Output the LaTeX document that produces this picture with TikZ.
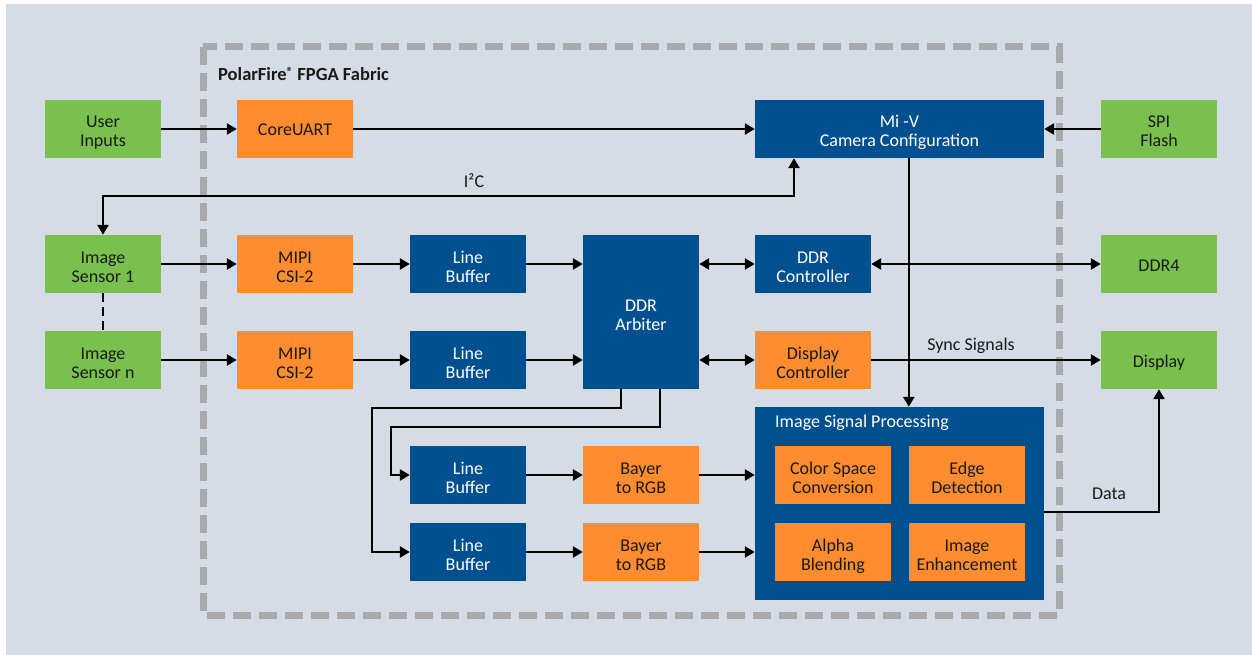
\documentclass[tikz,border=0pt]{standalone}
\usepackage{fontspec}
\setmainfont{Carlito}
\usetikzlibrary{arrows.meta}
\definecolor{bgcol}{HTML}{D5DCE6}
\definecolor{fabric}{HTML}{A7A9AC}
\definecolor{mgreen}{HTML}{7AC04F}
\definecolor{morange}{HTML}{FF8C2E}
\definecolor{mblue}{HTML}{005090}
\begin{document}
\begin{tikzpicture}[x=1pt,y=-1pt,
    blk/.style={minimum width=116pt,minimum height=58pt,inner sep=0pt,align=center,
      font=\fontsize{18}{19}\selectfont,text height=37pt,text depth=1pt},
    oneline/.style={text height=15pt},
    ext/.style={blk,fill=mgreen,text=black!90},
    ip/.style={blk,fill=morange,text=black!90},
    core/.style={blk,fill=mblue,text=white},
    wire/.style={line width=2.6pt,-{Triangle[length=10pt,width=11pt]}},
    bus/.style={wire,{Triangle[length=10pt,width=11pt]}-{Triangle[length=10pt,width=11pt]}},
    lbl/.style={anchor=base,inner sep=0pt,text=black!90,font=\fontsize{18}{19}\selectfont}]
      \useasboundingbox (0,0) rectangle (1252,655);
      \fill[bgcol] (6,4) rectangle (1252,655);
      \draw[fabric,line width=7pt,dash pattern=on 18pt off 8pt] (203,47) rectangle (1059,615);
      \node[anchor=base west,inner sep=0pt,text=black!90,font=\bfseries\fontsize{18.5}{19}\selectfont] (fabtitle) at (218,81) {PolarFire{\fontsize{13}{13}\selectfont\raisebox{4pt}{®}} FPGA Fabric};
      \node[ext] (user) at (103,129) {User\\Inputs};
      \node[ip,oneline] (uart) at (295,129) {CoreUART};
      \node[core,minimum width=289pt] (miv) at (899.5,129) {Mi -V\\Camera Configuration};
      \node[ext] (spi) at (1159,129) {SPI\\Flash};
      \node[ext] (sens1) at (103,264) {Image\\Sensor 1};
      \node[ext] (sensn) at (103,360) {Image\\Sensor n};
      \node[ip] (mipi1) at (295,264) {MIPI\\CSI-2};
      \node[ip] (mipin) at (295,360) {MIPI\\CSI-2};
      \node[core] (lb1) at (468,264) {Line\\Buffer};
      \node[core] (lbn) at (468,360) {Line\\Buffer};
      \node[core,minimum height=154pt] (arb) at (641,312) {DDR\\Arbiter};
      \node[core] (ddrc) at (813,264) {DDR\\Controller};
      \node[ext,oneline] (ddr4) at (1159,264) {DDR4};
      \node[ip] (dispc) at (813,360) {Display\\Controller};
      \node[ext,oneline] (disp) at (1159,360) {Display};
      \node[core] (lb3) at (468,475) {Line\\Buffer};
      \node[core] (lb4) at (468,552) {Line\\Buffer};
      \node[ip] (bay1) at (641,475) {Bayer\\to RGB};
      \node[ip] (bay2) at (641,552) {Bayer\\to RGB};
      \node[core,minimum width=289pt,minimum height=193pt] (isp) at (899.5,503.5) {};
      \node[anchor=base west,inner sep=0pt,text=white,font=\fontsize{18}{19}\selectfont] (isptitle) at (775,427) {Image Signal Processing};
      \node[ip] (csc) at (833,475) {Color Space\\Conversion};
      \node[ip] (edge) at (967,475) {Edge\\Detection};
      \node[ip] (alpha) at (833,552) {Alpha\\Blending};
      \node[ip] (enh) at (967,552) {Image\\Enhancement};
      \draw[wire] (user) -- (uart);
      \draw[wire] (uart) -- (miv);
      \draw[wire] (spi) -- (miv);
      \coordinate (i2c) at (794,196);
      \draw[bus] (sens1.north) |- (i2c) -- (i2c |- miv.south);
      \node[lbl] (i2clbl) at (474,187) {I²C};
      \draw[line width=2.6pt,dash pattern=on 9pt off 5pt] (sens1.south) -- (sensn.north);
      \draw[wire] (sens1) -- (mipi1);
      \draw[wire] (mipi1) -- (lb1);
      \draw[wire] (lb1) -- (lb1 -| arb.west);
      \draw[wire] (sensn) -- (mipin);
      \draw[wire] (mipin) -- (lbn);
      \draw[wire] (lbn) -- (lbn -| arb.west);
      \draw[bus] (arb.east |- ddrc) -- (ddrc);
      \draw[bus] (ddrc) -- (ddr4);
      \draw[bus] (arb.east |- dispc) -- (dispc);
      \draw[wire] (dispc) -- (disp);
      \node[lbl] (synclbl) at (971,350) {Sync Signals};
      \draw[wire] (miv.south -| edge.west) -- (isp.north -| edge.west);
      \draw[wire] ([xshift=-20pt]arb.south) |- (372,408) |- (lb4);
      \draw[wire] ([xshift=19pt]arb.south) |- (391,427) |- (lb3);
      \draw[wire] (lb3) -- (bay1);
      \draw[wire] (lb4) -- (bay2);
      \draw[wire] (bay1) -- (bay1 -| isp.west);
      \draw[wire] (bay2) -- (bay2 -| isp.west);
      \coordinate (dataout) at ([yshift=-8.5pt]isp.east);
      \draw[wire] (dataout) -| (disp);
      \node[lbl] (datalbl) at (1109,499) {Data};
\end{tikzpicture}
\end{document}
